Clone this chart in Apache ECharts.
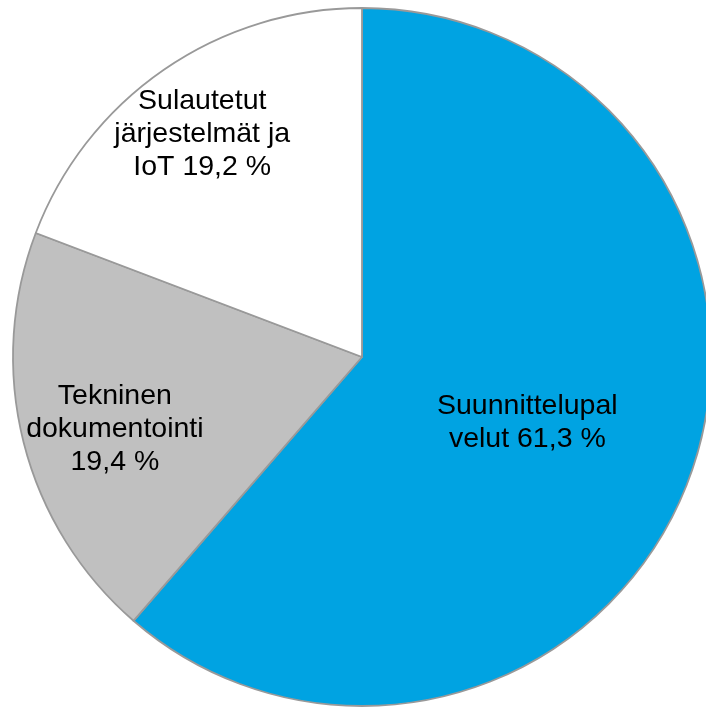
<!DOCTYPE html>
<html lang="fi">

<head>
    <meta charset="UTF-8">
    <script src="https://cdn.jsdelivr.net/npm/echarts@6/dist/echarts.min.js"></script>
    <title>Pie</title>
    <style>
        html, body { margin: 0; padding: 0; background: #fff; }
    </style>
</head>

<body>
    <div id="main" style="width: 706px; height: 707px;"></div>

    <script>
        // data
        var names = ['Suunnittelupalvelut', 'Tekninen dokumentointi', 'Sulautetut järjestelmät ja IoT'];
        var values = [61.3, 19.4, 19.2];
        // label lines as they wrap in the original
        var labelLines = [
            ['Suunnittelupal', 'velut'],
            ['Tekninen', 'dokumentointi', ''],
            ['Sulautetut', 'järjestelmät ja', 'IoT']
        ];
        var colors = ['#00A3E2', '#C0C0C0', '#FFFFFF'];
        // nudge labels to where the original places them
        var labelOffsets = [[-1, 4], [-75, 29], [-59, -77]];

        function fmt(v) {
            return v.toFixed(1).replace('.', ',') + ' %';
        }

        var data = names.map(function (n, i) {
            var lines = labelLines[i].slice();
            var last = lines.length - 1;
            lines[last] = (lines[last] ? lines[last] + ' ' : '') + fmt(values[i]);
            return {
                name: n,
                value: values[i],
                itemStyle: { color: colors[i] },
                label: { formatter: lines.join('\n'), offset: labelOffsets[i] }
            };
        });

        var myChart = echarts.init(document.getElementById('main'));
        var option = {
            animation: false,
            series: [
                {
                    type: 'pie',
                    center: [362, 357],
                    radius: 349,
                    startAngle: 90,
                    clockwise: true,
                    itemStyle: {
                        borderColor: '#999999',
                        borderWidth: 1.8
                    },
                    label: {
                        show: true,
                        position: 'inside',
                        color: '#000',
                        fontSize: 28.5,
                        lineHeight: 33,
                        fontFamily: 'Liberation Sans, Arial, sans-serif',
                        align: 'center'
                    },
                    labelLine: { show: false },
                    emphasis: { disabled: true },
                    data: data
                }
            ]
        };
        myChart.setOption(option);
    </script>
</body>

</html>
